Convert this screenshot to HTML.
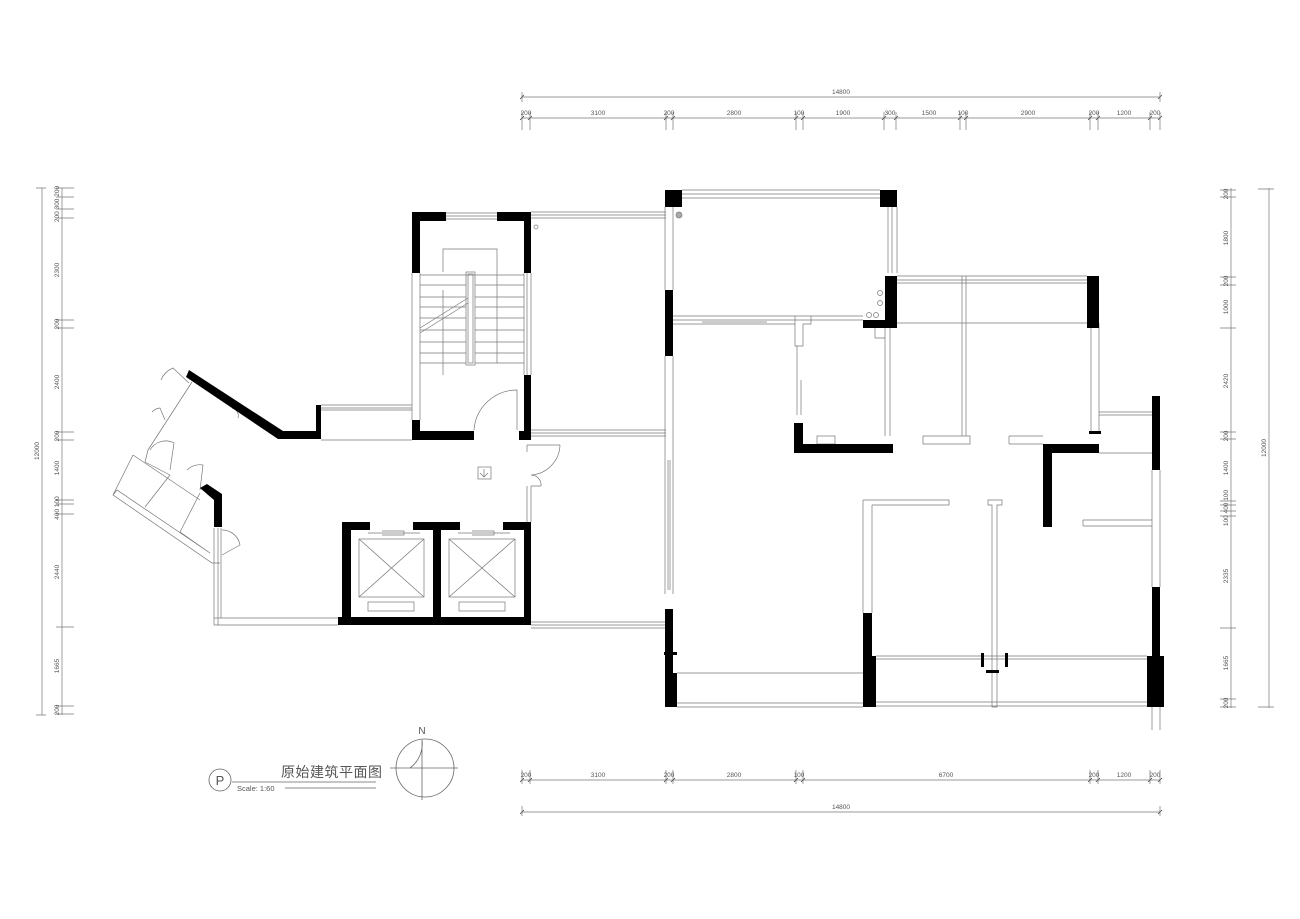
<!DOCTYPE html>
<html><head><meta charset="utf-8"><style>
html,body{margin:0;padding:0;background:#fff;}
svg{display:block;}
text{font-family:"Liberation Sans","Noto Sans CJK SC",sans-serif;fill:#555;}
</style></head><body>
<svg width="1300" height="919" viewBox="0 0 1300 919" xmlns="http://www.w3.org/2000/svg">
<g stroke="#777" stroke-width="0.7" fill="none">
<!-- top dims -->
<line x1="522" y1="97" x2="1160" y2="97"/>
<line x1="522" y1="118" x2="1160" y2="118"/>
<line x1="522" y1="812" x2="1160" y2="812"/>
<line x1="522" y1="780" x2="1160" y2="780"/>
<g stroke="#333">
<path d="M520 99 l4 -4 M1158 99 l4 -4 M520 814 l4 -4 M1158 814 l4 -4"/>
<path d="M520 120l4-4M528 120l4-4M664 120l4-4M671 120l4-4M794 120l4-4M801 120l4-4M882 120l4-4M894 120l4-4M958 120l4-4M964 120l4-4M1088 120l4-4M1096 120l4-4M1148 120l4-4M1158 120l4-4"/>
<path d="M520 782l4-4M528 782l4-4M664 782l4-4M671 782l4-4M794 782l4-4M801 782l4-4M1088 782l4-4M1096 782l4-4M1148 782l4-4M1158 782l4-4"/>
</g>
<path d="M522 92v10M1160 92v10M522 112v18M530 112v18M666 112v18M673 112v18M796 112v18M803 112v18M884 112v18M896 112v18M960 112v18M966 112v18M1090 112v18M1098 112v18M1150 112v18M1160 112v18"/>
<path d="M522 770v14M530 770v14M666 770v14M673 770v14M796 770v14M803 770v14M1090 770v14M1098 770v14M1150 770v14M1160 770v14M522 806v10M1160 806v10"/>
<!-- left dims -->
<line x1="42" y1="188" x2="42" y2="715"/>
<line x1="62" y1="188" x2="62" y2="715"/>
<path d="M36 188h10M36 715h10M56 188h18M56 197h18M56 209h18M56 218h18M56 320h18M56 328h18M56 432h18M56 440h18M56 500h18M56 504h18M56 514h18M56 627h18M56 706h18M56 714h18"/>
<!-- right dims -->
<line x1="1231" y1="188" x2="1231" y2="708"/>
<line x1="1269" y1="188" x2="1269" y2="708"/>
<path d="M1258 189h16M1258 707h16M1220 190h16M1220 197h16M1220 277h16M1220 285h16M1220 328h16M1220 432h16M1220 439h16M1220 501h16M1220 505h16M1220 511h16M1220 516h16M1220 628h16M1220 699h16M1220 707h16"/>
</g>
<g font-size="6.5" text-anchor="middle">
<text x="841" y="94">14800</text><text x="841" y="809">14800</text>
<text x="526" y="115">200</text><text x="598" y="115">3100</text><text x="669" y="115">200</text><text x="734" y="115">2800</text><text x="799" y="115">100</text><text x="843" y="115">1900</text><text x="890" y="115">300</text><text x="929" y="115">1500</text><text x="963" y="115">100</text><text x="1028" y="115">2900</text><text x="1094" y="115">200</text><text x="1124" y="115">1200</text><text x="1155" y="115">200</text>
<text x="526" y="777">200</text><text x="598" y="777">3100</text><text x="669" y="777">200</text><text x="734" y="777">2800</text><text x="799" y="777">100</text><text x="946" y="777">6700</text><text x="1094" y="777">200</text><text x="1124" y="777">1200</text><text x="1155" y="777">200</text>
</g>
<g font-size="6.5" text-anchor="middle">
<text transform="translate(39,451) rotate(-90)">12000</text>
<text transform="translate(59,204) rotate(-90)">200 300 200</text>
<text transform="translate(59,270) rotate(-90)">2300</text>
<text transform="translate(59,324) rotate(-90)">200</text>
<text transform="translate(59,382) rotate(-90)">2400</text>
<text transform="translate(59,436) rotate(-90)">200</text>
<text transform="translate(59,468) rotate(-90)">1400</text>
<text transform="translate(59,508) rotate(-90)">400 100</text>
<text transform="translate(59,572) rotate(-90)">2440</text>
<text transform="translate(59,666) rotate(-90)">1665</text>
<text transform="translate(59,710) rotate(-90)">200</text>
<text transform="translate(1266,448) rotate(-90)">12000</text>
<text transform="translate(1228,194) rotate(-90)">200</text>
<text transform="translate(1228,238) rotate(-90)">1800</text>
<text transform="translate(1228,281) rotate(-90)">200</text>
<text transform="translate(1228,307) rotate(-90)">1000</text>
<text transform="translate(1228,381) rotate(-90)">2420</text>
<text transform="translate(1228,436) rotate(-90)">200</text>
<text transform="translate(1228,468) rotate(-90)">1400</text>
<text transform="translate(1228,508) rotate(-90)">100 400 100</text>
<text transform="translate(1228,576) rotate(-90)">2335</text>
<text transform="translate(1228,663) rotate(-90)">1665</text>
<text transform="translate(1228,703) rotate(-90)">200</text>
</g>

<!-- thin walls/windows -->
<g stroke="#777" stroke-width="0.7" fill="none">
<!-- right unit -->
<path d="M682 190H880M682 194H880M682 198H880"/>
<path d="M888 207V273M892 207V273M897 207V273"/>
<path d="M665 207V290M673 207V290M665 356V594M673 356V594M668 460V590M670 460V590"/>
<path d="M673 316H863M673 320H863M673 324H795M702 322H735M735 322H767"/>
<path d="M795 316V346H803V324H811V316M797 346V415M801 380V415"/>
<path d="M885 322V436M890 322V436M875 328V338H885"/>
<path d="M897 276H1087M897 280H1087M897 283H1087M897 323H1087"/>
<path d="M962 276V436H970V444H923V436H962M966 276V436"/>
<path d="M1091 323V431M1099 323V431"/>
<path d="M1099 412H1152M1099 415H1152M1099 453H1152"/>
<path d="M1009 436H1043M1009 444H1043M1009 436V444"/>
<path d="M1152 470V587M1160 470V587M1152 689V730M1160 689V730"/>
<path d="M1083 520H1152M1083 526H1152M1083 520V526"/>
<path d="M1043 500H1047V505H1043"/>
<path d="M863 500V613M872 505V613M863 500H949V505H872"/>
<path d="M988 500H1002V505H997V707H992V505H988Z"/>
<path d="M876 656H1147M876 659H1147"/>
<path d="M677 673H863M677 703H863M677 707H863M876 702H1147M876 706H1147"/>
<circle cx="679" cy="215" r="3" fill="#aaa"/>
<circle cx="880" cy="293" r="2.5"/><circle cx="880" cy="303" r="2.5"/><circle cx="869" cy="315" r="2.5"/><circle cx="876" cy="315" r="2.5"/>
<rect x="817" y="436" width="18" height="8"/>
<!-- stair -->
<path d="M446 213H497M446 216H497M446 219H497"/>
<path d="M531 212H666M531 215H666M531 218H666"/>
<circle cx="536" cy="227" r="2"/>
<path d="M412 273V420M420 273V420M524 273V375M531 273V375M527 273V375"/>
<path d="M420 275H524M420 285H466M475 285H524M420 297H466M475 297H524M420 307H466M475 307H524M420 318H466M475 318H524M420 330H466M475 330H524M420 342H466M475 342H524M420 353H466M475 353H524M420 363H466M475 363H524"/>
<path d="M443 272V249H497V363"/>
<rect x="466" y="272" width="9" height="93"/><rect x="468" y="274" width="5" height="89"/>
<path d="M420 328L468 298M420 333L468 303M443 290V375"/>
<path d="M474 430A43 43 0 0 1 517 390V430"/>
<path d="M531 430H666M531 433H666M531 436H666"/>
<!-- corridor -->
<path d="M321 405H412M321 408H412M321 410H412M321 440H412"/>
<path d="M527 445H560M560 445A31 31 0 0 1 531 475M531 475A10 10 0 0 1 541 486M531 486H541M527 486V522M531 486V522M527 445V452"/>
<rect x="478" y="467" width="13" height="12"/><path d="M484 469V477M480 473L484 477L488 473"/>
<!-- elevators -->
<rect x="359" y="539" width="65" height="58"/><path d="M359 539L424 597M424 539L359 597"/>
<rect x="449" y="539" width="66" height="58"/><path d="M449 539L515 597M515 539L449 597"/>
<rect x="368" y="602" width="46" height="9"/><rect x="459" y="602" width="46" height="9"/>
<path d="M368 533H420M382 531H404V535H382M458 533H510M472 531H494V535H472"/>
<path d="M531 622H666M531 625H666M531 628H666"/>
<!-- left wing -->
<path d="M214 618H338M214 625H338M214 528V625M218 528V625M221 528V618"/>
<path d="M192 382L148 450M133 455L113 495L212 563L220 563M133 455L200 500M113 495L117 490L210 553M145 462L170 475M170 475L145 507M200 493L180 532M180 532L210 553M148 450L145 462"/>
<path d="M222 530A18 18 0 0 1 240 545L222 555"/>
<path d="M161 380A22 22 0 0 1 173 368L189 383M152 412A12 12 0 0 1 160 408L165 420"/>
<path d="M150 450A18 18 0 0 1 174 443L170 470M187 470A18 18 0 0 1 203 465L200 490"/>
<path d="M232 408A8 8 0 0 1 238 418"/>
</g>
<!-- black walls -->
<g fill="#000">
<rect x="665" y="190" width="17" height="17"/>
<rect x="880" y="190" width="17" height="17"/>
<rect x="665" y="290" width="8" height="66"/>
<path d="M885 276H897V328H863V320H885Z"/>
<rect x="1087" y="276" width="12" height="52"/>
<path d="M794 423H803V444H893V453H794Z"/>
<path d="M1043 444H1099V453H1052V527H1043Z"/>
<rect x="1089" y="431" width="12" height="3"/>
<rect x="1152" y="396" width="8" height="74"/>
<rect x="1152" y="587" width="8" height="69"/>
<rect x="1147" y="656" width="17" height="51"/>
<rect x="863" y="613" width="9" height="43"/>
<rect x="863" y="656" width="13" height="51"/>
<rect x="665" y="609" width="8" height="64"/>
<rect x="665" y="673" width="12" height="34"/>
<rect x="664" y="652" width="13" height="3"/>
<rect x="981" y="653" width="3" height="14"/><rect x="1005" y="653" width="3" height="14"/><rect x="986" y="670" width="13" height="3"/>
<!-- stair -->
<path d="M412 212H446V221H420V273H412Z"/>
<path d="M497 212H531V273H524V221H497Z"/>
<rect x="524" y="375" width="7" height="65"/>
<rect x="519" y="431" width="12" height="9"/>
<path d="M412 420H420V431H474V440H412Z"/>
<!-- diagonal -->
<path d="M189 370L283 431H316V405H321V439H278L186 377Z"/>
<path d="M200 488L207 484L222 494V527H214V500Z"/>
<!-- elevators -->
<path d="M342 522H370V530H351V617H433V530H413V522H460V530H441V617H524V530H503V522H531V625H338V617H342Z"/>
</g>
<!-- title -->
<g fill="none" stroke="#666" stroke-width="0.8">
<circle cx="220" cy="780" r="11"/>
<path d="M232 782H376M285 788H376"/>
<circle cx="425" cy="768" r="29"/>
<path d="M390 768H458M422 740V800M422 740A30 30 0 0 1 410 768"/>
</g>
<text x="220" y="785" font-size="13" text-anchor="middle" fill="#222">P</text>
<text x="281" y="777" font-size="14" fill="#222" style="letter-spacing:0.5px">原始建筑平面图</text>
<text x="237" y="791" font-size="7.5" fill="#333">Scale:  1:60</text>
<text x="422" y="734" font-size="10" text-anchor="middle" fill="#555">N</text>
</svg>
</body></html>
